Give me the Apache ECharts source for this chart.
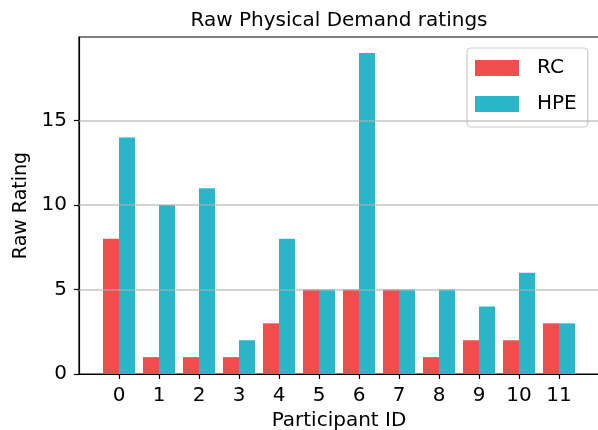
<!DOCTYPE html>
<html>
<head>
<meta charset="utf-8">
<script src="https://cdn.jsdelivr.net/npm/echarts@6/dist/echarts.min.js"></script>
<style>
  html, body { margin: 0; padding: 0; background: #fff; }
  #chart { width: 598px; height: 430px; }
</style>
</head>
<body>
<div id="chart"></div>
<script>
// Participant IDs and raw physical demand ratings per condition
const participants = [0, 1, 2, 3, 4, 5, 6, 7, 8, 9, 10, 11];
const rcRatings  = [8, 1, 1, 1, 3, 5, 5, 5, 1, 2, 2, 3];
const hpeRatings = [14, 10, 11, 2, 8, 5, 19, 5, 5, 4, 6, 3];
const yTicks = [0, 5, 10, 15];
const gridValues = [5, 10, 15];

const FONT = 'DejaVu Sans';
const chart = echarts.init(document.getElementById('chart'), null, { renderer: 'canvas' });

chart.setOption({
  animation: false,
  backgroundColor: '#fff',
  title: {
    text: 'Raw Physical Demand ratings',
    left: 339, top: 11, textAlign: 'center', padding: 0,
    textStyle: { fontFamily: FONT, fontSize: 20, fontWeight: 'normal', color: '#000' }
  },
  legend: {
    data: ['RC', 'HPE'],
    orient: 'vertical',
    left: 467, top: 48,
    icon: 'rect',
    itemWidth: 44, itemHeight: 16, itemGap: 16,
    padding: [10, 11, 13, 8],
    borderColor: '#cccccc', borderWidth: 1.2, borderRadius: 4,
    backgroundColor: 'rgba(255,255,255,0.8)',
    textStyle: { fontFamily: FONT, fontSize: 20, color: '#000', lineHeight: 16, padding: [0, 0, 0, 13] }
  },
  grid: {
    left: 79, top: 37, width: 520, bottom: 56,
    outerBoundsMode: 'none', containLabel: false,
    show: true, borderColor: '#000', borderWidth: 1.2, backgroundColor: 'transparent'
  },
  xAxis: {
    type: 'value',
    min: -1, max: 12, interval: 1,
    name: 'Participant ID',
    nameLocation: 'middle', nameGap: 35,
    nameTextStyle: { fontFamily: FONT, fontSize: 20, color: '#000' },
    axisLine: { show: true, onZero: false, lineStyle: { color: '#000', width: 1.2 } },
    axisTick: { show: true, length: 5, lineStyle: { color: '#000', width: 1.2 }, customValues: participants },
    axisLabel: { fontFamily: FONT, fontSize: 20, color: '#000', margin: 12, customValues: participants },
    splitLine: { show: false }
  },
  yAxis: {
    type: 'value',
    min: 0, max: 19.95, interval: 5,
    name: 'Raw Rating',
    nameLocation: 'middle', nameGap: 41, nameRotate: 90,
    nameTextStyle: { fontFamily: FONT, fontSize: 19, color: '#000' },
    axisLine: { show: true, onZero: false, lineStyle: { color: '#000', width: 1.2 } },
    axisTick: { show: true, length: 5, lineStyle: { color: '#000', width: 1.2 }, customValues: yTicks },
    axisLabel: { fontFamily: FONT, fontSize: 20, color: '#000', margin: 12, customValues: yTicks },
    splitLine: { show: false }
  },
  series: [
    {
      name: 'RC', type: 'bar',
      barWidth: 16, barGap: '0%',
      itemStyle: { color: '#f04e4e' },
      data: participants.map((p, i) => [p, rcRatings[i]])
    },
    {
      name: 'HPE', type: 'bar',
      barWidth: 16, barGap: '0%',
      itemStyle: { color: '#2ab6c9' },
      data: participants.map((p, i) => [p, hpeRatings[i]])
    },
    {
      // horizontal grid lines drawn above the bars
      name: 'grid', type: 'line', data: [], z: 10, silent: true,
      markLine: {
        silent: true, symbol: 'none', animation: false,
        label: { show: false },
        lineStyle: { type: 'solid', color: 'rgba(176,176,176,0.75)', width: 1.6 },
        data: gridValues.map(v => ({ yAxis: v }))
      }
    }
  ]
});
</script>
</body>
</html>
